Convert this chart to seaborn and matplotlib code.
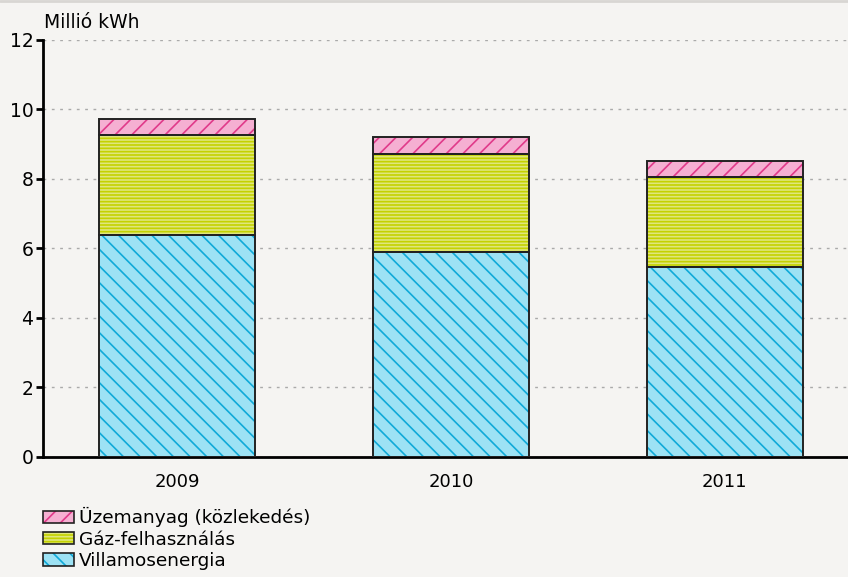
import numpy as np
import pandas as pd
import matplotlib.pyplot as plt
import seaborn as sns
from matplotlib.patches import Patch
from matplotlib.lines import Line2D

# Adatok (millió kWh)
evek = ["2009", "2010", "2011"]
villamos = [6.39, 5.89, 5.45]
gaz = [2.86, 2.83, 2.60]
uzemanyag = [0.47, 0.50, 0.46]

sorozatok = ["Villamosenergia", "Gáz-felhasználás", "Üzemanyag (közlekedés)"]
yticks = [0, 2, 4, 6, 8, 10, 12]

bg = "#f5f4f2"
stilus = {
    "Villamosenergia": ("#9de2f4", "#10aad8", "\\\\"),
    "Gáz-felhasználás": ("#dfe67c", "#c4d200", "-" * 5),
    "Üzemanyag (közlekedés)": ("#f5afd2", "#e03a8a", "//"),
}

sns.set_theme(style="white")
plt.rcParams["font.family"] = ["DejaVu Sans"]
plt.rcParams["hatch.linewidth"] = 1.2

df = pd.DataFrame({"ev": evek, "Villamosenergia": villamos,
                   "Gáz-felhasználás": gaz, "Üzemanyag (közlekedés)": uzemanyag})

fig = plt.figure(figsize=(8.48, 5.77), dpi=100, facecolor=bg)
ax = fig.add_axes([0.051, 0.2085, 0.949, 0.7222])
ax.set_facecolor(bg)

also = np.zeros(len(evek))
for nev in sorozatok:
    face, hcol, hatch = stilus[nev]
    sns.barplot(data=df, x="ev", y=nev, bottom=also, width=0.57, color=face,
                saturation=1, hatch=hatch, edgecolor=hcol, linewidth=0, ax=ax, zorder=2)
    # fekete keret
    sns.barplot(data=df, x="ev", y=nev, bottom=also, width=0.57, color="#222222",
                fill=False, linewidth=1.4, ax=ax, zorder=3)
    also = also + df[nev].to_numpy()

ax.set_xlim(-0.49, 2.45)
ax.set_ylim(0, 12)
ax.set_yticks(yticks)
ax.set_xlabel("")
ax.set_ylabel("")
ax.yaxis.grid(True, linestyle=(0, (2, 4)), color="#aaaaaa", linewidth=1)
ax.set_axisbelow(True)
for s in ["top", "right"]:
    ax.spines[s].set_visible(False)
ax.spines["left"].set_color("black")
ax.spines["left"].set_linewidth(2)
ax.spines["bottom"].set_color("black")
ax.spines["bottom"].set_linewidth(2)
ax.tick_params(axis="y", left=True, length=5, width=2, color="black",
               labelsize=13.5, pad=2, labelcolor="black")
ax.tick_params(axis="x", bottom=False, labelsize=13, pad=6, labelcolor="black")

fig.text(0.052, 0.951, "Millió kWh", fontsize=13.5, color="black", ha="left", va="baseline")

# jelmagyarázat: sraffozott doboz + fekete keret egymáson
kezelok = []
cimkek = []
for nev in reversed(sorozatok):
    face, hcol, hatch = stilus[nev]
    kezelok.append((Patch(facecolor=face, edgecolor=hcol, hatch=hatch, linewidth=0),
                    Patch(facecolor="none", edgecolor="#222222", linewidth=1.2)))
    cimkek.append(nev)
leg = fig.legend(kezelok, cimkek, loc="upper left", bbox_to_anchor=(0.051, 0.121),
                 frameon=False, fontsize=13.3, handlelength=1.65, handleheight=0.65,
                 handletextpad=0.3, labelspacing=0.18, borderaxespad=0, borderpad=0)
for t in leg.get_texts():
    t.set_color("black")

fig.add_artist(Line2D([0, 1], [0.998, 0.998], color="#d8d6d3", linewidth=2,
                      transform=fig.transFigure))

fig.savefig("out.png", dpi=100, facecolor=bg)
